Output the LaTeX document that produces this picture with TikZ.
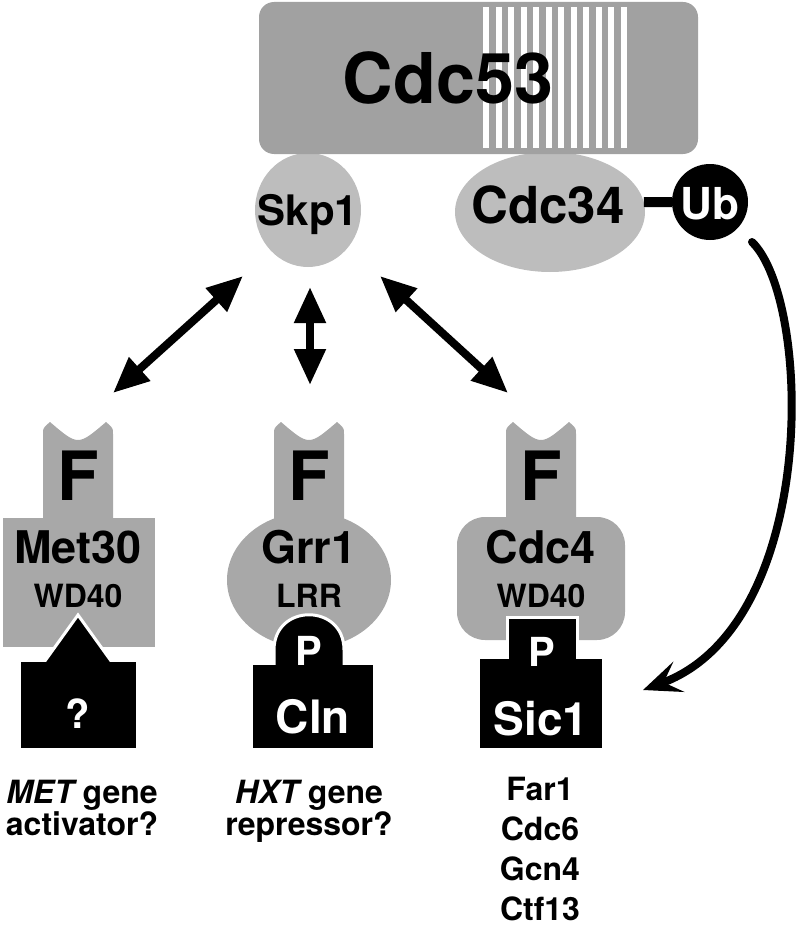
\documentclass[tikz,border=0pt]{standalone}
\usepackage{fontspec}
\setmainfont{TeX Gyre Heros}
\usetikzlibrary{arrows.meta,shapes.geometric}

\definecolor{cullingrey}{gray}{0.63}
\definecolor{adaptgrey}{gray}{0.74}
\definecolor{fboxgrey}{gray}{0.66}
\newcommand{\fsz}[1]{\fontsize{#1}{#1}\selectfont\bfseries}

\begin{document}
\begin{tikzpicture}[x=1pt,y=-1pt,
    lbl/.style={anchor=base,inner sep=0pt,font=\fsz{#1}},
    wlbl/.style={lbl=#1,text=white},
    blob/.style={ellipse,fill=adaptgrey,inner sep=0pt},
    fbox/.style={fill=fboxgrey},
    sub/.style={fill=black,draw=white,line width=3pt},
    dbl/.style={line width=8pt,{Triangle[length=36pt,width=30pt]}-{Triangle[length=36pt,width=30pt]}},
    ubarrow/.style={line width=8pt,line cap=round,-{Stealth[length=38pt,width=32pt,inset=16pt]}}]
  \useasboundingbox (0,0) rectangle (800,931);

  % SCF core
  \node[blob,minimum width=106,minimum height=114] (skp1) at (308,210) {};
  \node[blob,minimum width=190,minimum height=120] (cdc34) at (550,212) {};
  \fill[cullingrey,rounded corners=15] (259,2) rectangle (698,154);
  \foreach \i in {0,...,11}
    \fill[white] (483+12.5*\i,7) rectangle ++(6,141);
  \node[lbl=70] (cdc53) at (448,103) {Cdc53};
  \node[lbl=42] at (308,225) {Skp1};
  \node[lbl=51] at (548,223) {Cdc34};
  \node[circle,fill=black,minimum size=76,inner sep=0pt] (ub) at (710,202) {};
  \node[wlbl=44] at (710,219) {Ub};
  \draw[line width=10pt] (cdc34.6) -- (ub.west);

  % F-box proteins
  \foreach \x in {78,309,541}
    \fill[fbox] (\x-35,522) -- (\x-35,434) .. controls (\x-35,428) .. (\x-28,422)
      .. controls (\x,446) .. (\x+28,422) .. controls (\x+35,428) .. (\x+35,434)
      -- (\x+35,522) -- cycle;
  \fill[fbox] (3,518) rectangle (155,647);
  \fill[fbox] (309,580) ellipse [x radius=82, y radius=68];
  \fill[fbox,rounded corners=28] (457,517) rectangle (625,640);

  % substrates
  \filldraw[sub] (37,672) -- (78,615) -- (119,672);
  \fill[black] (21,662) rectangle (136,748);
  \filldraw[sub] (274,680) -- (274,650) .. controls (274,603) and (344,603) .. (344,650) -- (344,680);
  \fill[black] (253,665) rectangle (373,748);
  \filldraw[sub] (507,670) -- (507,617) -- (577,617) -- (577,670);
  \fill[black] (480,659) rectangle (602,748);

  \node[lbl=68] (fA) at (78,500) {F};
  \node[lbl=68] (fB) at (309,500) {F};
  \node[lbl=68] (fC) at (541,500) {F};
  \node[lbl=45] (met30) at (78,563) {Met30};
  \node[lbl=45] (grr1) at (309,563) {Grr1};
  \node[lbl=45] (cdc4) at (541,563) {Cdc4};
  \node[lbl=32] (wdA) at (78,607) {WD40};
  \node[lbl=32] (lrr) at (309,607) {LRR};
  \node[lbl=32] (wdC) at (541,607) {WD40};
  \node[wlbl=40] (pB) at (309,665) {P};
  \node[wlbl=40] (pC) at (542,666) {P};
  \node[wlbl=40] (unk) at (78,728) {?};
  \node[wlbl=46] (cln) at (313,733) {Cln};
  \node[wlbl=46] (sic1) at (541,735) {Sic1};

  % targets
  \node[lbl=32,align=center] (metact) at (82,835) {\itshape MET\upshape{} gene\\activator?};
  \node[lbl=32,align=center] (hxtrep) at (309,835) {\itshape HXT\upshape{} gene\\repressor?};
  \node[lbl=32] (far1) at (540,800) {Far1};
  \node[lbl=32] (cdc6) at (540,840) {Cdc6};
  \node[lbl=32] (gcn4) at (540,880) {Gcn4};
  \node[lbl=32] (ctf13) at (540,920) {Ctf13};

  % interactions
  \coordinate (skpA) at (243,276);
  \coordinate (metA) at (113,393);
  \coordinate (skpB) at (310,287);
  \coordinate (grrB) at (310,385);
  \coordinate (skpC) at (380,276);
  \coordinate (cdcC) at (508,393);
  \draw[dbl] (skpA) -- (metA);
  \draw[dbl] (skpB) -- (grrB);
  \draw[dbl] (skpC) -- (cdcC);

  \coordinate (ubout) at (752,242);
  \coordinate (sicin) at (643,690);
  \draw[ubarrow] (ubout) .. controls (812,300) and (820,625) .. (sicin);
\end{tikzpicture}
\end{document}
